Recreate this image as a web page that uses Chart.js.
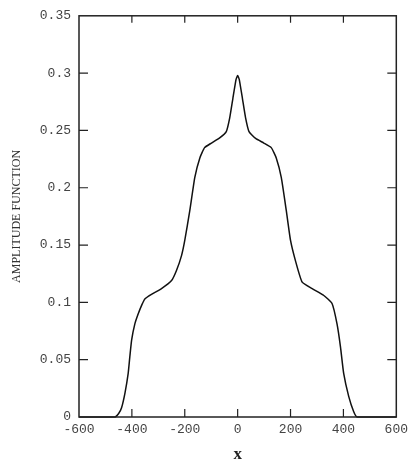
<!DOCTYPE html>
<html>
<head>
<meta charset="utf-8">
<script src="https://cdn.jsdelivr.net/npm/chart.js@4.4.1/dist/chart.umd.min.js"></script>
<style>
  html, body { margin: 0; padding: 0; background: #fff; }
  #wrap { width: 413px; height: 460px; }
</style>
</head>
<body>
<div id="wrap"><canvas id="ampChart"></canvas></div>
<script>
/* data */
const xValues = [-600, -464, -450, -439, -426, -414, -408, -401, -389, -376, -362, -351, -326, -288, -250, -231, -212, -200,
  -181, -162, -143, -125, -99, -68, -43, -30, -18, -6, 0, 6, 18, 30, 43, 68, 99, 127, 146, 165, 184,
  200, 219, 244, 282, 326, 357, 376, 389, 401, 420, 439, 452, 600];
const ampValues = [0, 0, 0.003, 0.008, 0.021, 0.038, 0.052, 0.067, 0.081, 0.090, 0.098, 0.103, 0.107, 0.112, 0.119, 0.128, 0.141, 0.154,
  0.180, 0.209, 0.226, 0.235, 0.239, 0.2435, 0.249, 0.261, 0.278, 0.2945, 0.298, 0.2945, 0.278, 0.261, 0.249, 0.243, 0.239, 0.235, 0.226, 0.209, 0.180,
  0.154, 0.136, 0.1176, 0.112, 0.106, 0.099, 0.081, 0.061, 0.038, 0.018, 0.0046, 0, 0];

const xTicks = [-600, -400, -200, 0, 200, 400, 600];
const xTickLabels = ['-600', '-400', '-200', '0', '200', '400', '600'];
const yTicks = [0, 0.05, 0.1, 0.15, 0.2, 0.25, 0.3, 0.35];
const yTickLabels = ['0', '0.05', '0.1', '0.15', '0.2', '0.25', '0.3', '0.35'];

const xTitle = 'x';
const yTitle = 'AMPLITUDE FUNCTION';

const tickFont = { family: '"Liberation Mono", "DejaVu Sans Mono", monospace', size: 13 };

/* frame, inward ticks and axis titles */
const framePlugin = {
  id: 'frame',
  afterDraw(chart) {
    const { ctx, chartArea: a, scales } = chart;
    ctx.save();
    ctx.strokeStyle = '#222';
    ctx.lineWidth = 1.5;
    ctx.strokeRect(a.left, a.top, a.right - a.left, a.bottom - a.top);

    ctx.lineWidth = 1.2;
    ctx.beginPath();
    xTicks.slice(1, -1).forEach(v => {
      const px = scales.x.getPixelForValue(v);
      ctx.moveTo(px, a.bottom); ctx.lineTo(px, a.bottom - 8);
      ctx.moveTo(px, a.top);    ctx.lineTo(px, a.top + 7);
    });
    yTicks.slice(1, -1).forEach(v => {
      const py = scales.y.getPixelForValue(v);
      ctx.moveTo(a.left, py);  ctx.lineTo(a.left + 9, py);
      ctx.moveTo(a.right, py); ctx.lineTo(a.right - 9, py);
    });
    ctx.stroke();

    // axis titles
    ctx.fillStyle = '#222';
    ctx.textAlign = 'center';
    ctx.font = 'bold 17px "Liberation Serif", serif';
    ctx.textBaseline = 'alphabetic';
    ctx.fillText(xTitle, (a.left + a.right) / 2, 459);

    ctx.translate(20, (a.top + a.bottom) / 2);
    ctx.rotate(-Math.PI / 2);
    ctx.font = '12px "Liberation Serif", serif';
    ctx.fillStyle = '#333';
    ctx.fillText(yTitle, 0, 0);
    ctx.restore();
  }
};

const ctx = document.getElementById('ampChart').getContext('2d');
new Chart(ctx, {
  type: 'scatter',
  data: {
    datasets: [{
      data: xValues.map((x, i) => ({ x, y: ampValues[i] })),
      showLine: true,
      borderColor: '#111',
      borderWidth: 1.5,
      pointRadius: 0,
      tension: 0.15,
      clip: false,
    }]
  },
  options: {
    responsive: true,
    maintainAspectRatio: false,
    animation: false,
    layout: { padding: { top: 14, right: 16, left: 0, bottom: 0 } },
    plugins: { legend: { display: false }, tooltip: { enabled: false } },
    scales: {
      x: {
        type: 'linear', min: -600, max: 600,
        afterBuildTicks: s => { s.ticks = xTicks.map(v => ({ value: v })); },
        afterFit: s => { s.height = 43; },
        ticks: {
          color: '#444', font: tickFont, padding: 5, maxRotation: 0,
          callback: (v, i) => xTickLabels[i],
        },
        grid: { display: false, drawTicks: false },
        border: { display: false },
      },
      y: {
        type: 'linear', min: 0, max: 0.35,
        afterBuildTicks: s => { s.ticks = yTicks.map(v => ({ value: v })); },
        afterFit: s => { s.width = 79; },
        ticks: {
          color: '#444', font: tickFont, padding: 8,
          callback: (v, i) => yTickLabels[i],
        },
        grid: { display: false, drawTicks: false },
        border: { display: false },
      }
    }
  },
  plugins: [framePlugin]
});
</script>
</body>
</html>
